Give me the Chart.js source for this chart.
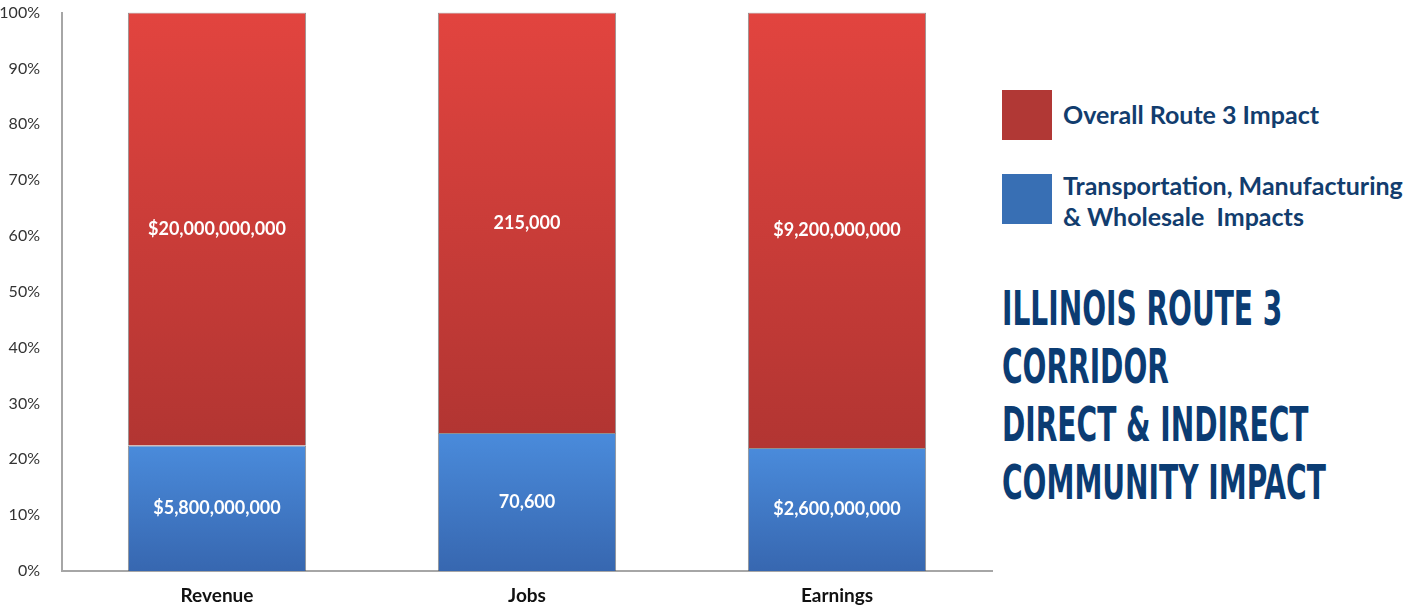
<!DOCTYPE html>
<html lang="en">
<head>
  <meta charset="UTF-8" />
  <title>Illinois Route 3 Corridor Impact</title>
  <script src="https://cdn.jsdelivr.net/npm/chart.js"></script>
  <style>
    body { margin: 0; background: #fff; font-family: Lato, sans-serif; }
    #wrap { position: relative; width: 1421px; height: 606px; overflow: hidden; }
    #chartBox { position: absolute; left: 0; top: -11px; width: 1000px; height: 617px; }
    .sw { position: absolute; left: 1002px; width: 50px; height: 50px; }
    .lg { position: absolute; left: 1063px; font-weight: bold; font-size: 25px; color: #123d6e; line-height: 31px; white-space: nowrap; }
    #title { position: absolute; left: 1002px; top: 279px; font-family: "DejaVu Sans Condensed", sans-serif; font-weight: bold;
             font-size: 48px; line-height: 58px; color: #0b3c73; transform: scaleX(0.65); transform-origin: left top; white-space: nowrap; }
  </style>
</head>
<body>
<div id="wrap">
  <div id="chartBox"><canvas id="impactChart"></canvas></div>
  <div class="sw" style="top:90px; background:#b13835"></div>
  <div class="lg" style="top:99px">Overall Route 3 Impact</div>
  <div class="sw" style="top:174px; background:#386fb4"></div>
  <div class="lg" style="top:170px">Transportation, Manufacturing<br>&amp; Wholesale&nbsp; Impacts</div>
  <div id="title">ILLINOIS ROUTE 3<br>CORRIDOR<br>DIRECT &amp; INDIRECT<br>COMMUNITY IMPACT</div>
</div>

<script>
  const categories = ['Revenue', 'Jobs', 'Earnings'];
  const prefixes = ['$', '', '$'];
  const sectorImpact = [5800000000, 70600, 2600000000];
  const overallImpact = [20000000000, 215000, 9200000000];
  const yTicks = [0, 10, 20, 30, 40, 50, 60, 70, 80, 90, 100];

  // 100% stacked shares
  const sectorShare = sectorImpact.map((v, i) => v / (v + overallImpact[i]) * 100);
  const overallShare = overallImpact.map((v, i) => v / (sectorImpact[i] + v) * 100);

  // vertical gradient over one bar segment
  function segGrad(ctx, startVals, top, bottom) {
    const y = ctx.chart.scales.y;
    if (!ctx.chart.chartArea || !y || ctx.raw === undefined) return bottom;
    const base = startVals ? startVals[ctx.dataIndex] : 0;
    const y0 = y.getPixelForValue(base + ctx.raw);
    const y1 = y.getPixelForValue(base);
    if (!isFinite(y0) || !isFinite(y1) || y0 === y1) return bottom;
    const g = ctx.chart.ctx.createLinearGradient(0, y0, 0, y1);
    g.addColorStop(0, top);
    g.addColorStop(1, bottom);
    return g;
  }

  const valueLabels = {
    id: 'valueLabels',
    afterDatasetsDraw(chart) {
      const c = chart.ctx;
      const raw = [sectorImpact, overallImpact];
      c.save();
      c.fillStyle = '#ffffff';
      c.font = 'bold 18px Lato';
      c.textAlign = 'center';
      c.textBaseline = 'middle';
      chart.data.datasets.forEach((ds, di) => {
        chart.getDatasetMeta(di).data.forEach((bar, i) => {
          const mid = (bar.y + bar.base) / 2;
          c.fillText(prefixes[i] + raw[di][i].toLocaleString('en-US'), bar.x, mid);
        });
      });
      c.restore();
    }
  };

  new Chart(document.getElementById('impactChart'), {
    type: 'bar',
    data: {
      labels: categories,
      datasets: [
        {
          label: 'Transportation, Manufacturing & Wholesale Impacts',
          data: sectorShare,
          backgroundColor: ctx => segGrad(ctx, null, '#4a8bdb', '#3767b0'),
          borderColor: 'rgba(70,70,70,0.6)',
          borderWidth: 1
        },
        {
          label: 'Overall Route 3 Impact',
          data: overallShare,
          backgroundColor: ctx => segGrad(ctx, sectorShare, '#e2443f', '#b23532'),
          borderColor: 'rgba(70,70,70,0.6)',
          borderWidth: 1
        }
      ]
    },
    options: {
      responsive: true,
      maintainAspectRatio: false,
      animation: false,
      layout: { padding: { top: 3, right: 8 } },
      categoryPercentage: 1,
      barPercentage: 0.575,
      plugins: { legend: { display: false }, tooltip: { enabled: false } },
      scales: {
        x: {
          stacked: true,
          afterFit: s => { s.height = 35; },
          grid: { display: false },
          border: { color: '#a6a6a6', width: 2 },
          ticks: { color: '#111', font: { family: 'Lato', weight: 'bold', size: 19 }, padding: 5 }
        },
        y: {
          stacked: true,
          min: 0,
          max: 100,
          afterFit: s => { s.width = 62; },
          afterBuildTicks: s => { s.ticks = yTicks.map(v => ({ value: v })); },
          grid: { display: false },
          border: { color: '#a6a6a6', width: 2 },
          ticks: { color: '#333', font: { family: 'Lato', size: 16 }, padding: 14, callback: v => v + '%' }
        }
      }
    },
    plugins: [valueLabels]
  });
</script>
</body>
</html>
